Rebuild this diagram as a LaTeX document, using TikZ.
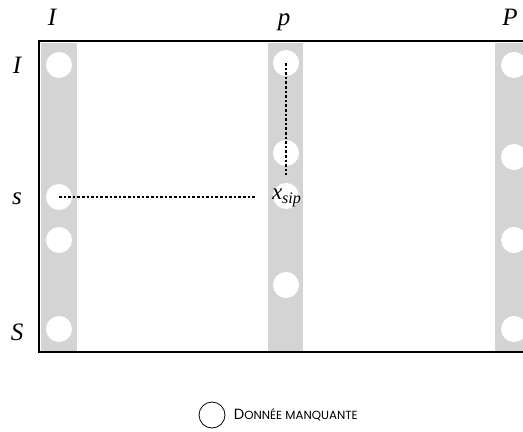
\documentclass[tikz,border=0pt]{standalone}
\usepackage{fontspec}
\setmainfont{Liberation Serif}
\newfontfamily\legendfont{Poppins}
\usetikzlibrary{positioning}

\begin{document}
\begin{tikzpicture}[x=0.5pt,y=-0.5pt]
\tikzset{
  band/.style={fill=black!17,draw=none},
  gap/.style={circle,fill=white,draw=none,minimum size=13pt,inner sep=0pt},
  axislabel/.style={font=\fontsize{12.5}{14}\selectfont\itshape,inner sep=0pt},
  link/.style={draw=black,line width=0.65pt,dash pattern=on 1.3pt off 1pt},
  keycircle/.style={circle,draw=black,line width=0.4pt,minimum size=13pt,inner sep=0pt}
}
\path[use as bounding box,clip] (0,0) rectangle (523,432);
% table frame
\draw[line width=0.75pt] (39,41) rectangle (560,352);
% grey columns
\fill[band] (41,43) rectangle (77,351);
\fill[band] (268,43) rectangle (303,351);
\fill[band] (495,43) rectangle (531,351);
% missing values
\node[gap] (c_I1) at (59,65) {};
\node[gap] (c_Is) at (59,197) {};
\node[gap] (c_I3) at (59,240) {};
\node[gap] (c_IS) at (59,329) {};
\node[gap] (c_p1) at (286,63) {};
\node[gap] (c_p2) at (286,153) {};
\node[gap] (c_ps) at (286,196) {};
\node[gap] (c_p4) at (286,285) {};
\node[gap] (c_P1) at (514,65) {};
\node[gap] (c_P2) at (514,157) {};
\node[gap] (c_P3) at (514,240) {};
\node[gap] (c_P4) at (514,329) {};
% labels
\node[axislabel,anchor=base] (t_I) at (52,26) {I};
\node[axislabel,anchor=base] (t_p) at (284,26) {p};
\node[axislabel,anchor=base] (t_P) at (510,26) {P};
\node[axislabel] (l_I) at (17,65) {I};
\node[axislabel] (l_s) at (17,199) {s};
\node[axislabel] (l_S) at (17,332) {S};
\node[anchor=base,inner sep=0pt,font=\fontsize{11.5}{13}\selectfont] (x_sip) at (287,200)
  {\textit{x}\textsubscript{\textit{sip}}};
% guides
\coordinate (h_end) at (255,197);
\coordinate (v_end) at (286,175);
\draw[link] (c_Is.center) -- (h_end);
\draw[link] (c_p1.center) -- (v_end);
% legend
\node[keycircle] (key) at (212,415) {};
\node[right=4pt of key,inner sep=0pt,font=\legendfont\fontsize{7.4}{9}\selectfont]
  (key_txt) {D{\fontsize{5.9}{7}\selectfont ONNÉE MANQUANTE}};
\end{tikzpicture}
\end{document}
